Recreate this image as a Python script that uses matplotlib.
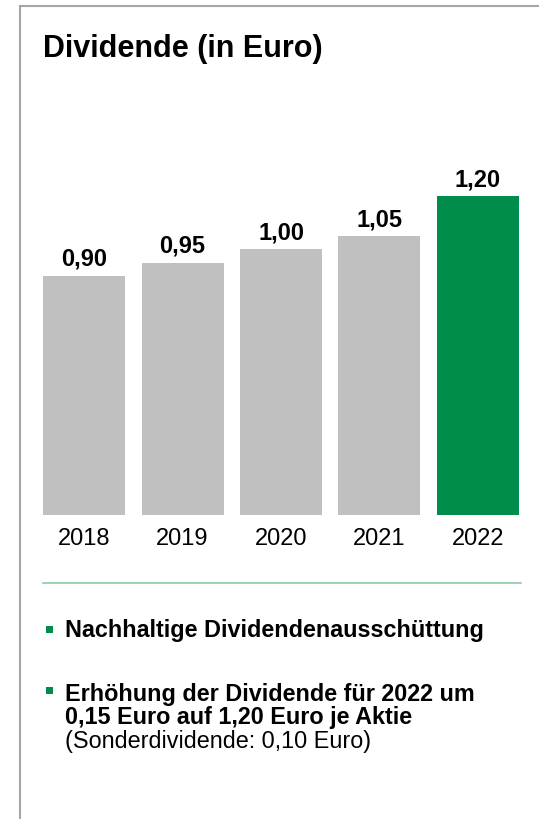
import matplotlib
matplotlib.use('Agg')
import matplotlib.pyplot as plt
from matplotlib.patches import Rectangle
from matplotlib.lines import Line2D

W, H = 539, 819

years = ['2018', '2019', '2020', '2021', '2022']
dividends = [0.90, 0.95, 1.00, 1.05, 1.20]
labels = ['0,90', '0,95', '1,00', '1,05', '1,20']

GREY = '#c0c0c0'
GREEN = '#008c4b'
LINE_GREEN = '#7fc9a0'
BORDER = '#a6a6a6'
FONT = 'Liberation Sans'

plt.rcParams['font.family'] = [FONT, 'DejaVu Sans']


def fx(x):
    return x / W


def fy(y):
    return 1 - y / H


fig = plt.figure(figsize=(W / 100, H / 100), dpi=100)

# bar area: x from 35 to 527 px, y from 170 to 515 px
ax = fig.add_axes([fx(35), fy(515), fx(492), 345.3 / H])
colors = [GREY] * (len(years) - 1) + [GREEN]
ax.bar(range(len(years)), dividends, width=0.834, color=colors)
ax.set_xlim(-0.5, len(years) - 0.5)
ax.set_ylim(0, 1.3)
for i, (v, lab) in enumerate(zip(dividends, labels)):
    ax.annotate(lab, (i, v), xytext=(0, 7.2), textcoords='offset points',
                ha='center', va='baseline', fontsize=17, fontweight='bold')
ax.set_xticks(range(len(years)))
ax.set_xticklabels(years, fontsize=17)
ax.tick_params(axis='x', length=0, pad=9.5)
ax.set_yticks([])
for s in ax.spines.values():
    s.set_visible(False)

# frame lines
fig.add_artist(Line2D([fx(20), 1], [fy(5.5), fy(5.5)], color=BORDER, lw=1.5))
fig.add_artist(Line2D([fx(20), fx(20)], [fy(5.5), 0], color=BORDER, lw=1.5))
fig.add_artist(Line2D([fx(43), fx(521)], [fy(583), fy(583)], color=LINE_GREEN, lw=1.1))

fig.text(fx(43), fy(57), 'Dividende (in Euro)', fontsize=22, fontweight='bold',
         va='baseline', ha='left')

# bullets
for by in [626, 687]:
    fig.add_artist(Rectangle((fx(46), fy(by + 6.5)), fx(6.5), 6.5 / H,
                             color=GREEN, lw=0))
fig.text(fx(65), fy(637), 'Nachhaltige Dividendenausschüttung', fontsize=16.8,
         fontweight='bold', va='baseline')
fig.text(fx(65), fy(701), 'Erhöhung der Dividende für 2022 um', fontsize=16.8,
         fontweight='bold', va='baseline')
fig.text(fx(65), fy(724), '0,15 Euro auf 1,20 Euro je Aktie', fontsize=16.8,
         fontweight='bold', va='baseline')
fig.text(fx(65), fy(748), '(Sonderdividende: 0,10 Euro)', fontsize=16.8,
         va='baseline')

fig.savefig('out.png', dpi=100)
